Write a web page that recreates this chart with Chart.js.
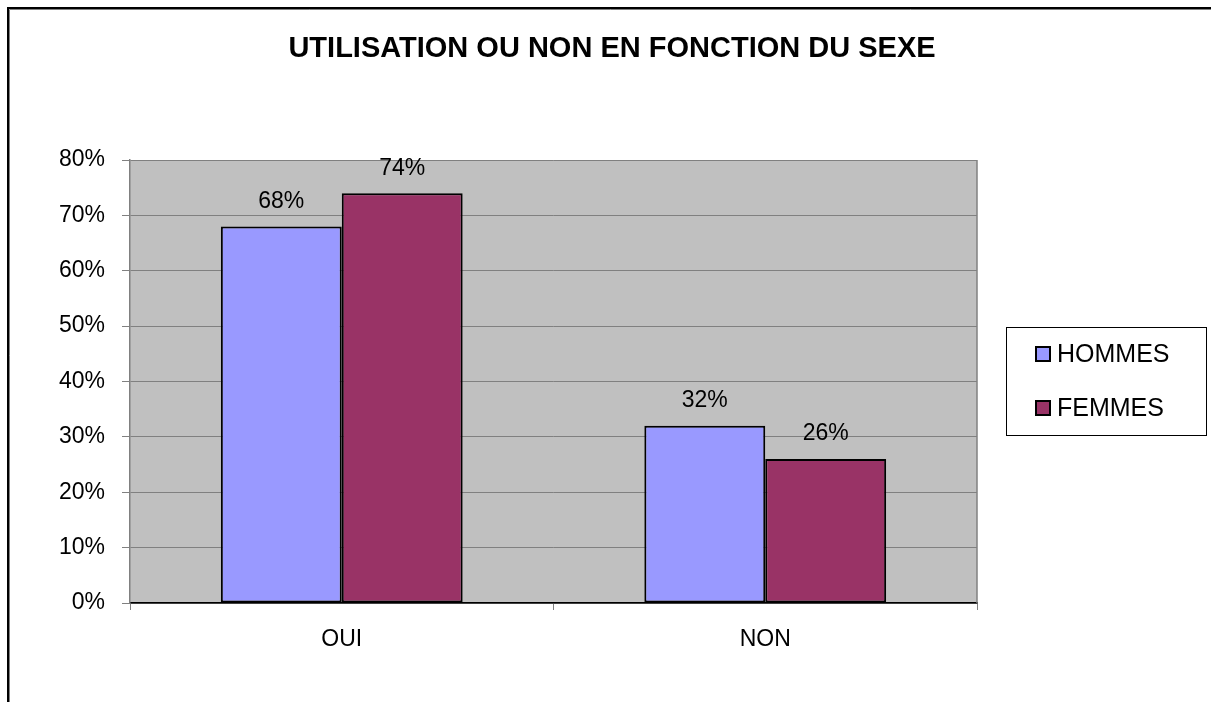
<!DOCTYPE html>
<html>
<head>
<meta charset="utf-8">
<script src="https://cdn.jsdelivr.net/npm/chart.js@4.4.0/dist/chart.umd.min.js"></script>
<style>
    html, body { margin: 0; padding: 0; background: #fff; }
</style>
</head>
<body>
<canvas id="sexeChart" width="1211" height="702"></canvas>
<script>
// chart values
const categories = ['OUI', 'NON'];
const seriesNames = ['HOMMES', 'FEMMES'];
const hommesValues = [68, 32];
const femmesValues = [74, 26];
const yTicks = [0, 10, 20, 30, 40, 50, 60, 70, 80];
const chartTitle = 'UTILISATION OU NON EN FONCTION DU SEXE';

const fontFamily = 'Arial, "Liberation Sans", sans-serif';

//Background, outer frame, plot area and title
const frame = {
    id: 'frame',
    beforeDraw(chart) {
        const ctx = chart.ctx;
        const a = chart.chartArea;
        ctx.save();
        ctx.fillStyle = '#ffffff';
        ctx.fillRect(0, 0, chart.width, chart.height);
        ctx.fillStyle = '#c0c0c0';
        ctx.fillRect(a.left, a.top, a.right - a.left, a.bottom - a.top);
        // outer border (only top and left are visible)
        ctx.strokeStyle = '#000';
        ctx.lineWidth = 2;
        ctx.beginPath();
        ctx.moveTo(8, chart.height);
        ctx.lineTo(8, 8);
        ctx.lineTo(chart.width, 8);
        ctx.stroke();
        ctx.strokeStyle = '#808080';
        ctx.lineWidth = 1;
        ctx.beginPath();
        ctx.moveTo(9.5, chart.height);
        ctx.lineTo(9.5, 9.5);
        ctx.lineTo(chart.width, 9.5);
        ctx.stroke();
        // title, centred on the whole picture
        ctx.fillStyle = '#000';
        ctx.font = 'bold 29px ' + fontFamily;
        ctx.textAlign = 'center';
        ctx.textBaseline = 'middle';
        ctx.fillText(chartTitle, 612, 49);
        ctx.restore();
    },
    beforeDatasetsDraw(chart) {
        const ctx = chart.ctx;
        const a = chart.chartArea;
        ctx.save();
        ctx.strokeStyle = '#808080';
        ctx.lineWidth = 1.5;
        ctx.beginPath();
        ctx.moveTo(a.right, a.top);
        ctx.lineTo(a.right, a.bottom);
        ctx.stroke();
        ctx.restore();
    }
};

//Value labels above the bars
const valueLabels = {
    id: 'valueLabels',
    afterDatasetsDraw(chart) {
        const ctx = chart.ctx;
        ctx.save();
        ctx.fillStyle = '#000';
        ctx.font = '23px ' + fontFamily;
        ctx.textAlign = 'center';
        ctx.textBaseline = 'middle';
        chart.data.datasets.forEach((ds, i) => {
            chart.getDatasetMeta(i).data.forEach((bar, j) => {
                ctx.fillText(ds.data[j] + '%', bar.x, bar.y - 25);
            });
        });
        ctx.restore();
    }
};

//Legend box on the right
const boxLegend = {
    id: 'boxLegend',
    afterDraw(chart) {
        const ctx = chart.ctx;
        const x = 1006, y = 327, w = 200, h = 108;
        ctx.save();
        ctx.fillStyle = '#fff';
        ctx.fillRect(x, y, w, h);
        ctx.strokeStyle = '#000';
        ctx.lineWidth = 1;
        ctx.strokeRect(x + 0.5, y + 0.5, w, h);
        ctx.font = '25px ' + fontFamily;
        ctx.textBaseline = 'middle';
        ctx.textAlign = 'left';
        chart.data.datasets.forEach((ds, i) => {
            const cy = 354 + i * 54;
            ctx.fillStyle = ds.backgroundColor;
            ctx.fillRect(1036, cy - 7, 14, 14);
            ctx.strokeStyle = '#000';
            ctx.lineWidth = 2;
            ctx.strokeRect(1036, cy - 7, 14, 14);
            ctx.fillStyle = '#000';
            ctx.fillText(ds.label, 1057, cy + 1);
        });
        ctx.restore();
    }
};

//Generate bar chart
const sexe = document.getElementById('sexeChart').getContext('2d');
let sexeChart = new Chart(sexe, {
    type: 'bar',
    data: {
        labels: categories,
        datasets: [{
            label: seriesNames[0],
            data: hommesValues,
            backgroundColor: '#9999ff',
            borderColor: '#000',
            borderWidth: 2,
            borderSkipped: false
        }, {
            label: seriesNames[1],
            data: femmesValues,
            backgroundColor: '#993366',
            borderColor: '#000',
            borderWidth: 2,
            borderSkipped: false
        }]
    },
    options: {
        responsive: false,
        animation: false,
        devicePixelRatio: 1,
        layout: { padding: { top: 160, right: 234, bottom: 0, left: 0 } },
        datasets: {
            bar: { categoryPercentage: 0.571, barPercentage: 1.0 }
        },
        scales: {
            x: {
                afterFit(scale) { scale.height = 99; },
                grid: {
                    drawOnChartArea: false,
                    offset: true,
                    tickLength: 7,
                    tickColor: '#808080'
                },
                border: { color: '#000', width: 1.5 },
                ticks: {
                    color: '#000',
                    padding: 16,
                    font: { family: fontFamily, size: 23 }
                }
            },
            y: {
                min: 0,
                max: 80,
                afterFit(scale) { scale.width = 130; },
                afterBuildTicks(scale) { scale.ticks = yTicks.map(v => ({ value: v })); },
                grid: {
                    color: '#808080',
                    tickColor: '#808080',
                    tickLength: 8,
                    lineWidth: 1
                },
                border: { color: '#808080', width: 1.5 },
                ticks: {
                    color: '#000',
                    padding: 17,
                    font: { family: fontFamily, size: 23 },
                    callback: v => v + '%'
                }
            }
        },
        plugins: {
            legend: { display: false },
            tooltip: { enabled: false },
            title: { display: false }
        }
    },
    plugins: [frame, valueLabels, boxLegend]
});
</script>
</body>
</html>
